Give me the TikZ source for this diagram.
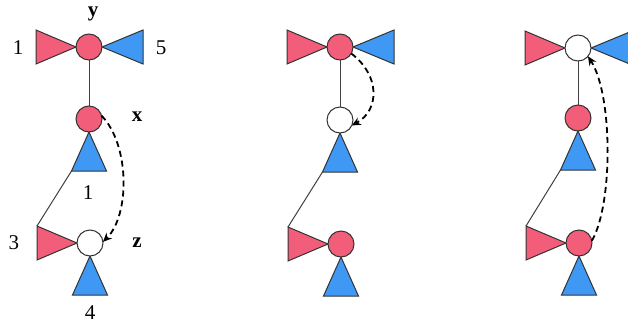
\documentclass[tikz,border=0pt]{standalone}
\usepackage{fontspec}
\setmainfont{Liberation Serif}
\usetikzlibrary{arrows.meta,backgrounds}
\definecolor{nred}{RGB}{242,94,122}
\definecolor{nblue}{RGB}{64,152,245}
\newcommand\ltri[1]{\draw[rtri] (#1.west) -- ++(-40,17) coordinate (#1tl) -- ++(0,-34) -- cycle;}
\newcommand\rtri[1]{\draw[btri] (#1.east) -- ++(41,17) -- ++(0,-34) -- cycle;}
\newcommand\dtri[1]{\draw[btri] (#1.south) -- ++(-17.5,-39) coordinate (#1bl) -- ++(35,0) -- cycle;}
\begin{document}
\begin{tikzpicture}[x=1pt,y=1pt,
  vert/.style={circle,draw=black!80,line width=1pt,minimum size=26pt,inner sep=0pt,outer sep=0pt},
  rv/.style={vert,fill=nred},
  wv/.style={vert,fill=white},
  rtri/.style={fill=nred,draw=black!80,line width=1pt},
  btri/.style={fill=nblue,draw=black!80,line width=1pt},
  tedge/.style={draw=black!75,line width=1pt},
  move/.style={line width=1.8pt,dash pattern=on 6pt off 4pt,-{Stealth[length=9pt,width=8pt,inset=3pt]}},
  lab/.style={font=\fontsize{21}{23}\selectfont,inner sep=0pt},
  blab/.style={font=\fontsize{21}{23}\selectfont\bfseries,inner sep=0pt}]
\useasboundingbox (0,0) rectangle (628,325);
% panel 1
\node[rv] (ay) at (89,278) {};
\node[rv] (ax) at (89,206) {};
\node[wv] (az) at (90,82) {};
% panel 2
\node[rv] (by) at (340,278) {};
\node[wv] (bx) at (340,205) {};
\node[rv] (bz) at (341,81) {};
% panel 3
\node[wv] (cy) at (578,277) {};
\node[rv] (cx) at (578,207) {};
\node[rv] (cz) at (579,82) {};
\begin{scope}[on background layer]
  \foreach \p in {a,b,c}{
    \draw[tedge] (\p y) -- (\p x);
    \ltri{\p y}\rtri{\p y}
    \dtri{\p x}
    \ltri{\p z}\dtri{\p z}
    \draw[tedge] (\p xbl) -- (\p ztl);
  }
\end{scope}
% labels
\node[blab] (ly) at (93,311) {y};
\node[lab] (l1) at (18,277) {1};
\node[lab] (l5) at (161,277) {5};
\node[blab] (lx) at (137,208) {x};
\node[lab] (l1b) at (88,132) {1};
\node[lab] (l3) at (14,82) {3};
\node[blab] (lz) at (137,82) {z};
\node[lab] (l4) at (90,12) {4};
% moves
\draw[move] (ax.15) .. controls (130,180) and (130,110) .. (az.5);
\draw[move] (by.-30) .. controls (380,250) and (380,215) .. (bx.-25);
\draw[move] (cz.10) .. controls (613,120) and (613,230) .. (cy.-40);
\end{tikzpicture}
\end{document}
